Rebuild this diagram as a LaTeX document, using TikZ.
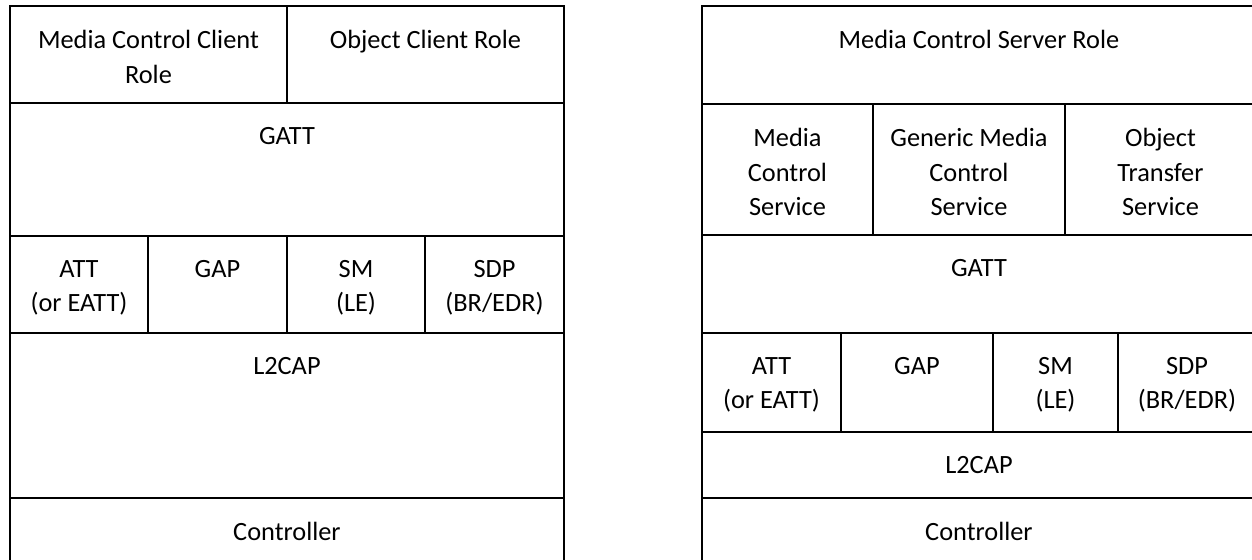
\documentclass[tikz,border=0pt]{standalone}
\usepackage{fontspec}
\setmainfont{Carlito}
\usetikzlibrary{positioning}
\tikzset{
    layer/.style={
        draw,
        line width=1.2pt,
        rectangle,
        inner sep=0pt,
        outer sep=0pt,
        anchor=north west
    },
    layertext/.style={
        align=center,
        inner sep=0pt,
        font=\fontsize{15}{19.6}\selectfont
    }
}

\begin{document}
\begin{tikzpicture}[x=0.02cm, y=-0.02cm]
\useasboundingbox (0,0) rectangle (1252,560);
\clip (0,0) rectangle (1252,560);

% ====== LEFT STACK: CLIENT ======
\node[layer, minimum width=5.54cm, minimum height=1.94cm] (mccRole) at (10,6) {};
\node[layer, minimum width=5.54cm, minimum height=1.94cm] (ocRole) at (287,6) {};
\node[layer, minimum width=11.08cm, minimum height=2.66cm] (gattL) at (10,103) {};
\node[layer, minimum width=2.76cm, minimum height=1.94cm] (attL) at (10,236) {};
\node[layer, minimum width=2.78cm, minimum height=1.94cm] (gapL) at (148,236) {};
\node[layer, minimum width=2.76cm, minimum height=1.94cm] (smL) at (287,236) {};
\node[layer, minimum width=2.78cm, minimum height=1.94cm] (sdpL) at (425,236) {};
\node[layer, minimum width=11.08cm, minimum height=3.30cm] (l2capL) at (10,333) {};
\node[layer, minimum width=11.08cm, minimum height=1.60cm] (ctrlL) at (10,498) {};

% labels left
\node[layertext, below=0.48cm of mccRole.north] (mccRoleText) {Media Control Client\\Role};
\node[layertext, below=0.48cm of ocRole.north] (ocRoleText) {Object Client Role};
\node[layertext, below=0.48cm of gattL.north] (gattLText) {GATT};
\node[layertext, below=0.48cm of attL.north] (attLText) {ATT\\(or EATT)};
\node[layertext, below=0.48cm of gapL.north] (gapLText) {GAP};
\node[layertext, below=0.48cm of smL.north] (smLText) {SM\\(LE)};
\node[layertext, below=0.48cm of sdpL.north] (sdpLText) {SDP\\(BR/EDR)};
\node[layertext, below=0.48cm of l2capL.north] (l2capLText) {L2CAP};
\node[layertext, below=0.48cm of ctrlL.north] (ctrlLText) {Controller};

% ====== RIGHT STACK: SERVER ======
\node[layer, minimum width=11.08cm, minimum height=1.96cm] (mcsRole) at (702,6) {};
\node[layer, minimum width=3.42cm, minimum height=2.62cm] (mcs) at (702,104) {};
\node[layer, minimum width=3.84cm, minimum height=2.62cm] (gmcs) at (873,104) {};
\node[layer, minimum width=3.82cm, minimum height=2.62cm] (ots) at (1065,104) {};
\node[layer, minimum width=11.08cm, minimum height=1.96cm] (gattR) at (702,235) {};
\node[layer, minimum width=2.78cm, minimum height=1.98cm] (attR) at (702,333) {};
\node[layer, minimum width=3.04cm, minimum height=1.98cm] (gapR) at (841,333) {};
\node[layer, minimum width=2.50cm, minimum height=1.98cm] (smR) at (993,333) {};
\node[layer, minimum width=2.76cm, minimum height=1.98cm] (sdpR) at (1118,333) {};
\node[layer, minimum width=11.08cm, minimum height=1.32cm] (l2capR) at (702,432) {};
\node[layer, minimum width=11.08cm, minimum height=1.60cm] (ctrlR) at (702,498) {};

% labels right
\node[layertext, below=0.48cm of mcsRole.north] (mcsRoleText) {Media Control Server Role};
\node[layertext, below=0.48cm of mcs.north] (mcsText) {Media\\Control\\Service};
\node[layertext, below=0.48cm of gmcs.north] (gmcsText) {Generic Media\\Control\\Service};
\node[layertext, below=0.48cm of ots.north] (otsText) {Object\\Transfer\\Service};
\node[layertext, below=0.48cm of gattR.north] (gattRText) {GATT};
\node[layertext, below=0.48cm of attR.north] (attRText) {ATT\\(or EATT)};
\node[layertext, below=0.48cm of gapR.north] (gapRText) {GAP};
\node[layertext, below=0.48cm of smR.north] (smRText) {SM\\(LE)};
\node[layertext, below=0.48cm of sdpR.north] (sdpRText) {SDP\\(BR/EDR)};
\node[layertext, below=0.48cm of l2capR.north] (l2capRText) {L2CAP};
\node[layertext, below=0.48cm of ctrlR.north] (ctrlRText) {Controller};

\end{tikzpicture}
\end{document}
